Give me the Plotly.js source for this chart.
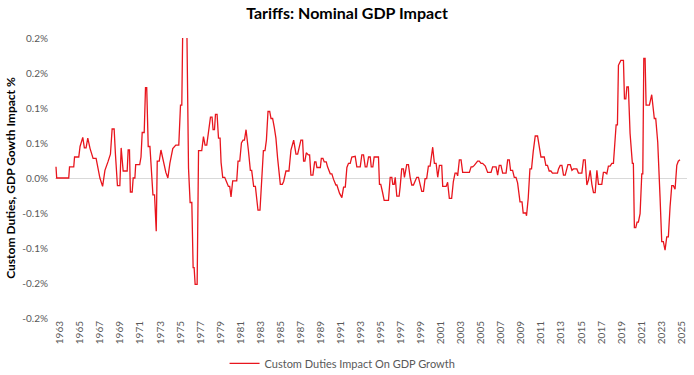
<!DOCTYPE html>
<html>
<head>
<meta charset="utf-8">
<script src="https://cdn.plot.ly/plotly-3.0.1.min.js"></script>
<style>html,body{margin:0;padding:0;background:#fff;}#chart{width:694px;height:375px;}</style>
</head>
<body>
<div id="chart"></div>
<script>
// Decimal-year positions of the series readings
const years = [
1962.60,1962.67,1963.87,1963.95,1964.37,1964.45,1964.87,1965.00,1965.27,1965.43,1965.60,1965.77,1966.00,1966.30,1966.60,1966.78,1966.98,1967.25,1967.48,1967.78,
1968.03,1968.20,1968.40,1968.53,1968.73,1968.97,1969.10,1969.30,1969.70,1969.80,1969.93,1970.02,1970.20,1970.30,1970.47,1970.55,1970.95,1971.08,1971.20,1971.40,
1971.53,1971.65,1971.80,1971.97,1972.10,1972.27,1972.43,1972.60,1972.70,1972.90,1973.07,1973.33,1973.56,1973.76,1973.96,1974.25,1974.55,1974.85,1975.02,1975.15,
1975.25,1975.65,1975.82,1975.98,1976.15,1976.28,1976.38,1976.48,1976.68,1976.82,1977.14,1977.31,1977.47,1977.64,1977.81,1978.01,1978.17,1978.27,1978.41,1978.51,
1978.67,1978.81,1978.97,1979.07,1979.23,1979.43,1979.60,1979.80,1979.93,1980.06,1980.23,1980.63,1980.76,1980.93,1981.10,1981.26,1981.40,1981.56,1981.79,1981.99,
1982.12,1982.32,1982.49,1982.62,1982.75,1982.95,1983.12,1983.29,1983.45,1983.59,1983.75,1983.92,1984.05,1984.21,1984.38,1984.54,1984.71,1984.98,1985.18,1985.31,
1985.54,1985.84,1986.04,1986.31,1986.54,1986.71,1987.03,1987.20,1987.30,1987.43,1987.57,1987.77,1987.90,1988.03,1988.23,1988.40,1988.53,1988.63,1988.97,1989.07,
1989.23,1989.36,1989.56,1989.69,1989.96,1990.12,1990.29,1990.52,1990.62,1990.89,1991.12,1991.29,1991.46,1991.62,1991.78,1991.95,1992.11,1992.28,1992.45,1992.61,
1992.95,1993.11,1993.28,1993.45,1993.61,1993.78,1993.95,1994.05,1994.21,1994.34,1994.77,1994.87,1995.00,1995.17,1995.34,1995.77,1995.87,1995.94,1996.10,1996.20,
1996.34,1996.44,1996.60,1996.83,1996.93,1997.09,1997.26,1997.36,1997.59,1997.76,1997.93,1998.09,1998.26,1998.59,1998.76,1998.93,1999.09,1999.26,1999.42,1999.58,
1999.75,1999.92,2000.18,2000.35,2000.52,2000.68,2000.85,2001.08,2001.18,2001.52,2001.67,2001.84,2002.07,2002.24,2002.41,2002.57,2002.67,2002.84,2003.01,2003.17,
2003.84,2004.01,2004.17,2004.33,2004.66,2004.83,2005.00,2005.16,2005.43,2005.66,2006.00,2006.16,2006.50,2006.66,2006.82,2006.99,2007.16,2007.50,2007.66,2007.82,
2007.95,2008.15,2008.32,2008.49,2008.65,2008.89,2009.09,2009.21,2009.48,2009.54,2009.71,2009.88,2010.04,2010.21,2010.41,2010.64,2010.81,2010.98,2011.31,2011.47,
2011.63,2011.80,2011.97,2012.13,2012.63,2012.73,2012.90,2013.07,2013.23,2013.40,2013.67,2013.90,2014.07,2014.22,2014.56,2014.72,2015.06,2015.22,2015.39,2015.56,
2015.72,2015.89,2016.06,2016.22,2016.39,2016.56,2016.72,2017.05,2017.21,2017.38,2017.55,2017.71,2017.88,2018.05,2018.21,2018.31,2018.48,2018.61,2018.71,2018.95,
2019.21,2019.31,2019.45,2019.55,2019.70,2019.87,2020.10,2020.20,2020.30,2020.44,2020.57,2020.70,2020.87,2021.04,2021.14,2021.24,2021.37,2021.47,2021.80,2022.03,
2022.29,2022.43,2022.63,2022.86,2023.03,2023.19,2023.36,2023.53,2023.69,2023.86,2024.03,2024.19,2024.36,2024.53,2024.68,2024.85
];
// Custom duties impact on GDP growth, in percent
const impact = [
0.016,0,0,0.016,0.016,0.030,0.030,0.045,0.058,0.043,0.043,0.057,0.042,0.028,0.028,0.016,0,-0.012,0.011,0.023,
0.034,0.070,0.070,0.034,-0.011,-0.011,0.043,0.010,0.010,0.040,0.040,-0.020,-0.020,0,0,0.019,0.019,0.030,0.065,0.065,
0.129,0.129,0.045,0.045,0.009,-0.024,-0.024,-0.076,0.024,0.024,0.040,0.023,0.008,0,0.021,0.042,0.047,0.047,0.104,0.104,
0.22,0.22,0.014,-0.035,-0.035,-0.128,-0.128,-0.152,-0.152,0.039,0.039,0.059,0.047,0.047,0.069,0.087,0.087,0.069,0.069,0.091,
0.091,0.057,0.057,0.022,0.001,0.001,-0.005,-0.012,-0.012,-0.027,-0.004,-0.004,0.024,0.024,0.050,0.054,0.054,0.069,0.040,0.011,
0.011,-0.012,-0.012,-0.029,-0.046,-0.046,0.008,0.039,0.039,0.054,0.095,0.095,0.085,0.085,0.072,0.057,0.028,-0.009,-0.009,-0.005,
0.010,0.010,0.040,0.054,0.034,0.034,0.054,0.054,0.024,0.024,0.036,0.033,0.033,0.004,0.004,0.023,0.023,0.015,0.015,0.028,
0.028,0.023,0.023,0.016,0.006,0.006,-0.002,-0.010,-0.010,-0.022,-0.028,-0.013,-0.013,0.015,0.021,0.021,0.030,0.030,0.031,0.016,
0.016,0.033,0.033,0.016,0.016,0.030,0.030,0.016,0.016,0.030,0.030,-0.009,-0.009,-0.020,-0.032,-0.032,-0.012,0.001,0.001,-0.009,
-0.009,0.001,-0.026,-0.026,-0.013,0.013,0.013,0.001,0.019,0.019,0.001,-0.010,-0.010,0.001,0.001,-0.010,-0.019,-0.019,-0.001,-0.001,
0.017,0.017,0.044,0.021,0.021,0.001,0.018,0.018,-0.012,-0.012,-0.006,-0.029,-0.029,-0.005,0.007,0.007,0.003,0.026,0.026,0.008,
0.008,0.016,0.016,0.018,0.024,0.024,0.021,0.021,0.017,0.008,0.008,0.016,0.016,0.004,0.018,0.018,0.007,0.007,0.026,0.026,
0.011,0.011,0.001,0.001,-0.007,-0.034,-0.034,-0.050,-0.050,-0.054,-0.029,0.013,0.013,0.038,0.060,0.060,0.042,0.030,0.030,0.018,
0.018,0.010,0.010,0.007,0.007,0.013,0.018,0.018,0.004,0.004,0.019,0.019,0.011,0.013,0.013,0.007,0.007,0.026,0.026,-0.010,
-0.003,0.011,-0.009,-0.021,-0.021,0.011,-0.009,-0.009,0.008,0.008,0.006,0.017,0.017,0.021,0.021,0.040,0.076,0.076,0.161,0.168,
0.168,0.113,0.113,0.130,0.130,0.064,0.021,0.021,-0.071,-0.071,-0.063,-0.063,-0.051,0.006,0.006,0.171,0.171,0.104,0.104,0.119,
0.085,0.085,0.051,-0.027,-0.091,-0.091,-0.103,-0.084,-0.084,-0.041,-0.011,-0.011,-0.016,0.018,0.024,0.026
];
const yTickVals = [0.2,0.15,0.1,0.05,0,-0.05,-0.1,-0.15,-0.2];
const yTickText = ['0.2%','0.2%','0.1%','0.1%','0.0%','-0.1%','-0.1%','-0.2%','-0.2%'];
const xTickVals = [];
for (let y = 1963; y <= 2025; y += 2) xTickVals.push(y);

const FONT = 'Lato, "Open Sans", sans-serif';

const trace = {
  x: years, y: impact, type: 'scatter', mode: 'lines',
  name: 'Custom Duties Impact On GDP Growth',
  line: {color: '#e8151d', width: 1.3}
};

const layout = {
  width: 694, height: 375,
  margin: {l: 55, r: 7, t: 38, b: 57, autoexpand: false},
  paper_bgcolor: '#fff', plot_bgcolor: '#fff',
  title: {text: '<b>Tariffs: Nominal GDP Impact</b>', x: 0.5, xanchor: 'center', y: 0.963, yanchor: 'middle',
          font: {family: FONT, size: 16, color: '#000'}},
  showlegend: true,
  legend: {orientation: 'h', x: 0.455, xanchor: 'center', y: -0.162, yanchor: 'middle',
           font: {family: FONT, size: 11, color: '#595959'}, itemwidth: 30},
  xaxis: {
    range: [1962.5, 2025.55], tickmode: 'array', tickvals: xTickVals, ticktext: xTickVals.map(String),
    tickangle: -90, tickfont: {family: FONT, size: 10, color: '#595959'},
    showgrid: false, zeroline: false, showline: false, ticks: '', automargin: false
  },
  yaxis: {
    range: [-0.2, 0.2], tickmode: 'array', tickvals: yTickVals, ticktext: yTickText,
    tickfont: {family: FONT, size: 10, color: '#595959'}, ticklabelstandoff: 6,
    showgrid: false, zeroline: true, zerolinecolor: '#d9d9d9', zerolinewidth: 1,
    showline: false, ticks: '', automargin: false,
    title: {text: '<b>Custom Duties, GDP Gowth Impact %</b>', standoff: 4,
            font: {family: FONT, size: 12, color: '#000'}}
  }
};

Plotly.newPlot('chart', [trace], layout, {displayModeBar: false, staticPlot: true});
</script>
</body>
</html>
